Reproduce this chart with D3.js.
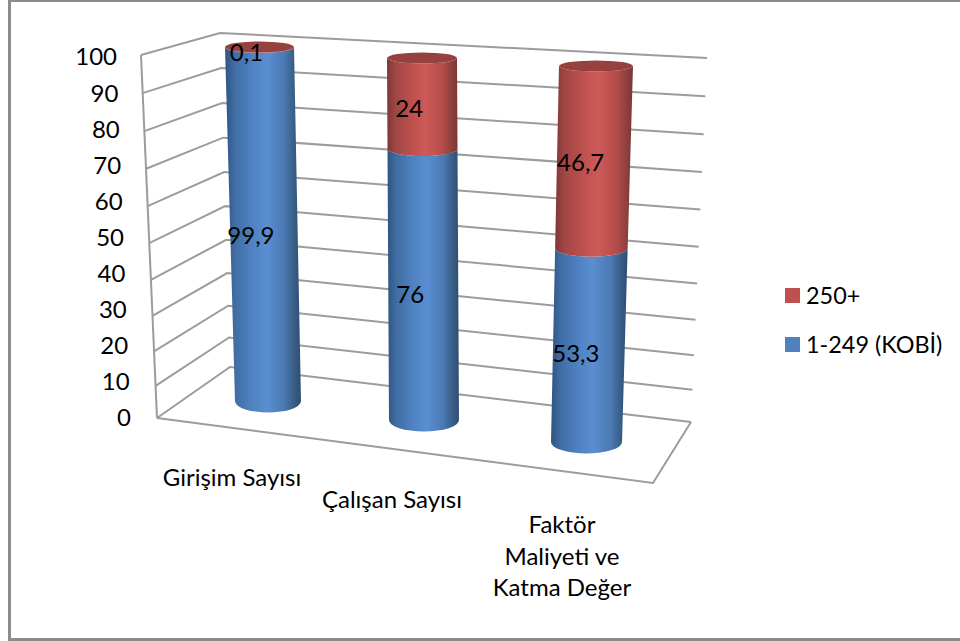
<!DOCTYPE html>
<html>
<head>
<meta charset="utf-8">
<script src="https://cdn.jsdelivr.net/npm/d3@7"></script>
<style>
  html, body { margin: 0; padding: 0; background: #fff; }
  svg { display: block; }
  text { font-family: Lato, "Noto Sans", sans-serif; fill: #000; }
</style>
</head>
<body>
<svg id="chart" width="960" height="641"></svg>
<script>
// values
const categories = [["Girişim Sayısı"], ["Çalışan Sayısı"], ["Faktör", "Maliyeti ve", "Katma Değer"]];
const smeShare = [99.9, 76, 53.3];
const largeShare = [0.1, 24, 46.7];
const seriesNames = ["250+", "1-249 (KOBİ)"];
const yTicks = [0, 10, 20, 30, 40, 50, 60, 70, 80, 90, 100];

const svg = d3.select("#chart");
const fontSize = 24;

// heights are a bit foreshortened in the 3d view, walls and bars alike
const rise = d3.scalePow().exponent(1.054).domain([0, 100]).range([0, 1]);

// --- walls of the 3d box: one scale per vertical edge, fed with rise(v)
const frontX = d3.scaleLinear().range([157, 141]);
const frontY = d3.scaleLinear().range([418, 55]);
const backLX = d3.scaleLinear().range([230, 220]);
const backLY = d3.scaleLinear().range([367, 33]);
const backRX = d3.scaleLinear().range([691, 707]);
const backRY = d3.scaleLinear().range([422, 58]);

// --- cylinders: base and top follow the category
const idx = [0, 1, 2];
const baseX = d3.scaleLinear().domain(idx).range([268, 424, 586.5]);
const baseY = d3.scaleLinear().domain(idx).range([401, 420, 442]);
const topX = d3.scaleLinear().domain(idx).range([259.5, 422, 596]);
const topY = d3.scaleLinear().domain(idx).range([47, 58, 66]);
const baseR = d3.scaleLinear().domain(idx).range([33, 35, 35.5]);
const topR = d3.scaleLinear().domain(idx).range([34.5, 35, 37]);
const ryBase = 11.5, ryTop = 5.5;

function project(i, v) {
  const t = rise(v);
  return {
    x: baseX(i) + (topX(i) - baseX(i)) * t,
    y: baseY(i) + (topY(i) - baseY(i)) * t,
    r: baseR(i) + (topR(i) - baseR(i)) * t,
    ry: ryBase + (ryTop - ryBase) * t
  };
}

// --- gradients
const defs = svg.append("defs");
function sideGradient(id, stops) {
  const g = defs.append("linearGradient").attr("id", id);
  stops.forEach(s => g.append("stop").attr("offset", s[0]).attr("stop-color", s[1]));
}
sideGradient("blueSide", [[0, "#2f5480"], [0.12, "#3f6ca3"], [0.35, "#4f82c0"], [0.55, "#5a8ed1"], [0.78, "#4a79b3"], [0.93, "#36597f"], [1, "#2f4f75"]]);
sideGradient("redSide", [[0, "#7f3735"], [0.12, "#a04644"], [0.35, "#bd504e"], [0.55, "#ce5a58"], [0.78, "#b54d4b"], [0.93, "#8c3e3c"], [1, "#7c3634"]]);

// --- frame
svg.append("path")
  .attr("d", "M9.5,641V0.5H960M9.5,639.5H960")
  .attr("fill", "none").attr("stroke", "#8c8c8c").attr("stroke-width", 3);

// --- gridlines and wall outline
const wall = svg.append("g").attr("fill", "none").attr("stroke", "#9c9c9c").attr("stroke-width", 2);
yTicks.forEach(v => {
  const t = rise(v);
  wall.append("path").attr("d", d3.line()([
    [frontX(t), frontY(t)], [backLX(t), backLY(t)], [backRX(t), backRY(t)]
  ]));
});
wall.append("path").attr("d", d3.line()([[frontX(1), frontY(1)], [frontX(0), frontY(0)]]));
// floor
const floorX = d3.scaleLinear().domain([0, 1]).range([frontX(0), 653]);
const floorY = d3.scaleLinear().domain([0, 1]).range([frontY(0), 483]);
wall.append("path").attr("d", d3.line()([
  [floorX(0), floorY(0)], [floorX(1), floorY(1)], [backRX(0), backRY(0)]
]));

// --- cylinders
function segment(i, from, to) {
  const a = project(i, from), b = project(i, to);
  return `M${b.x - b.r},${b.y}` +
    `A${b.r},${b.ry} 0 0 0 ${b.x + b.r},${b.y}` +
    `L${a.x + a.r},${a.y}` +
    `A${a.r},${a.ry} 0 0 1 ${a.x - a.r},${a.y}Z`;
}
const bars = svg.append("g");
categories.forEach((c, i) => {
  bars.append("path").attr("d", segment(i, 0, smeShare[i])).attr("fill", "url(#blueSide)");
  bars.append("path").attr("d", segment(i, smeShare[i], smeShare[i] + largeShare[i])).attr("fill", "url(#redSide)");
  const t = project(i, smeShare[i] + largeShare[i]);
  bars.append("ellipse").attr("cx", t.x).attr("cy", t.y).attr("rx", t.r).attr("ry", t.ry).attr("fill", "#97413f");
});

// --- value labels
const labels = svg.append("g").attr("font-size", fontSize).attr("text-anchor", "middle");
function valueLabel(i, mid, value) {
  const p = project(i, mid);
  labels.append("text")
    .attr("x", p.x - 13).attr("y", p.y + 5).attr("dy", "0.35em")
    .text(String(value).replace(".", ","));
}
categories.forEach((c, i) => {
  valueLabel(i, smeShare[i] / 2, smeShare[i]);
  valueLabel(i, smeShare[i] + largeShare[i] / 2, largeShare[i]);
});

// --- value axis labels
const axisLabels = svg.append("g").attr("font-size", fontSize).attr("text-anchor", "end");
const labelRight = d3.scaleLinear().domain([0, 100]).range([131, 117]);
const labelY = d3.scaleLinear().domain([0, 100]).range([418, 57]);
yTicks.forEach(v => {
  axisLabels.append("text").attr("x", labelRight(v)).attr("y", labelY(v)).attr("dy", "0.35em").text(v);
});

// --- category labels
const catX = d3.scaleLinear().domain(idx).range([232, 392, 562]);
const catY = d3.scaleLinear().domain(idx).range([478, 500, 525]);
const catLines = svg.append("g").attr("font-size", fontSize).attr("text-anchor", "middle");
categories.forEach((lines, i) => {
  lines.forEach((line, j) => {
    catLines.append("text").attr("x", catX(i)).attr("y", catY(i) + j * 31.5).attr("dy", "0.35em").text(line);
  });
});

// --- legend
const legendY = d3.scalePoint().domain(seriesNames).range([295.5, 344.5]);
const legendColor = d3.scaleOrdinal().domain(seriesNames).range(["#c0504d", "#4f81bd"]);
const legend = svg.append("g").attr("font-size", 23.4);
seriesNames.forEach(name => {
  legend.append("rect").attr("x", 785).attr("y", legendY(name) - 7.5).attr("width", 15).attr("height", 15).attr("fill", legendColor(name));
  legend.append("text").attr("x", 806).attr("y", legendY(name)).attr("dy", "0.35em").text(name);
});
</script>
</body>
</html>
